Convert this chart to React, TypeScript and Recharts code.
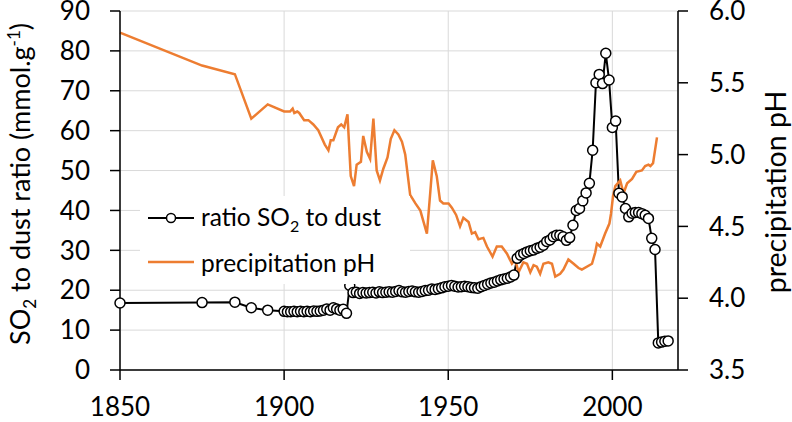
import { LineChart, Line, XAxis, YAxis, CartesianGrid, Legend } from "recharts";

// SO2 to dust ratio (mmol/g)
const ratioYears = [
  1850, 1875, 1885, 1890, 1895,
  1900, 1901, 1902, 1903, 1904, 1905, 1906, 1907, 1908, 1909,
  1910, 1911, 1912, 1913, 1914, 1915, 1916, 1917, 1918, 1919,
  1920, 1921, 1922, 1923, 1924, 1925, 1926, 1927, 1928, 1929,
  1930, 1931, 1932, 1933, 1934, 1935, 1936, 1937, 1938, 1939,
  1940, 1941, 1942, 1943, 1944, 1945, 1946, 1947, 1948, 1949,
  1950, 1951, 1952, 1953, 1954, 1955, 1956, 1957, 1958, 1959,
  1960, 1961, 1962, 1963, 1964, 1965, 1966, 1967, 1968, 1969,
  1970, 1971, 1972, 1973, 1974, 1975, 1976, 1977, 1978, 1979,
  1980, 1981, 1982, 1983, 1984, 1985, 1986, 1987, 1988, 1989,
  1990, 1991, 1992, 1993, 1994, 1995, 1996, 1997, 1998, 1999,
  2000, 2001, 2002, 2003, 2004, 2005, 2006, 2007, 2008, 2009,
  2010, 2011, 2012, 2013, 2014, 2015, 2016, 2017,
];
const ratioValues = [
  16.8, 16.9, 17.0, 15.6, 15.0,
  14.7, 14.6, 14.6, 14.7, 14.6, 14.7, 14.6, 14.7, 14.6, 14.8,
  14.7, 14.8, 15.0, 15.3, 15.0, 15.6, 15.3, 15.0, 15.2, 14.2,
  21.2, 19.4, 19.5, 19.2, 19.4, 19.3, 19.4, 19.5, 19.3, 19.6,
  19.4, 19.5, 19.6, 19.5, 19.7, 19.9, 19.6, 19.5, 19.7, 19.8,
  19.6, 19.5, 19.7, 19.9, 20.0, 20.3, 20.2, 20.4, 20.6, 20.9,
  21.0, 21.2, 21.0, 20.8, 20.9, 21.0, 20.9, 20.7, 20.6, 20.5,
  20.9, 21.2, 21.5, 21.8, 22.0, 22.3, 22.6, 22.8, 23.0, 23.3,
  23.8, 28.0, 28.8, 29.2, 29.6, 29.9, 30.1, 30.5, 30.8, 31.3,
  32.2, 32.6, 33.4, 33.8, 33.8, 33.4, 32.5, 33.2, 36.3, 40.0,
  40.5, 42.4, 44.4, 46.8, 55.1, 72.0, 74.1, 71.8, 79.4, 72.7,
  60.8, 62.4, 44.3, 43.4, 40.5, 38.4, 39.3, 39.5, 39.5, 39.2,
  38.8, 38.0, 33.0, 30.2, 6.8, 7.0, 7.2, 7.3,
];

// precipitation pH
const phYears = [
  1850, 1875, 1885, 1890, 1895, 1900, 1901.8, 1902.6, 1903.1, 1904, 1904.6,
  1906.1, 1907.4, 1908.9, 1910.4, 1912.4, 1913.5, 1914.2, 1915, 1916.4, 1917.4,
  1918.3, 1919.3, 1920.3, 1921.3, 1922.1, 1923.4, 1924.1, 1925.2, 1926.2, 1927.2,
  1928.2, 1929.2, 1930.2, 1931.5, 1932.5, 1933.6, 1934.8, 1935.9, 1936.9, 1938.4,
  1940, 1941.5, 1943.5, 1944.5, 1945.3, 1946.5, 1947.5, 1948.5, 1950.1, 1951.1,
  1952.4, 1953.6, 1954.6, 1956.2, 1957.2, 1958.2, 1959.2, 1960.7, 1961.8, 1963.5,
  1964.8, 1966.3, 1967.9, 1969.4, 1970.4, 1971.4, 1972.9, 1974, 1975, 1976,
  1977, 1978, 1979, 1980.5, 1981.6, 1982.6, 1984.1, 1985.1, 1986.6, 1988.2,
  1989.7, 1990.7, 1993.8, 1994.8, 1995.3, 1996.3, 1997.8, 1999.1, 1999.6, 2000.2,
  2000.9, 2002.4, 2003.4, 2004.5, 2006, 2007.3, 2009, 2010, 2011, 2011.6,
  2012.4, 2013.6,
];
const phValues = [
  5.85, 5.62, 5.56, 5.25, 5.35, 5.3, 5.3, 5.32, 5.29, 5.3, 5.29,
  5.24, 5.24, 5.21, 5.17, 5.07, 5.03, 5.1, 5.1, 5.19, 5.21,
  5.19, 5.28, 4.85, 4.78, 4.93, 4.95, 5.13, 5.02, 4.97, 5.25,
  4.89, 4.82, 4.9, 4.98, 5.11, 5.17, 5.14, 5.09, 5.0, 4.72,
  4.66, 4.61, 4.45, 4.73, 4.96, 4.85, 4.68, 4.66, 4.66, 4.63,
  4.58, 4.5, 4.56, 4.53, 4.45, 4.46, 4.41, 4.42, 4.36, 4.29,
  4.36, 4.36, 4.31, 4.24, 4.27, 4.18, 4.25, 4.24, 4.18, 4.23,
  4.22, 4.17, 4.24, 4.25, 4.24, 4.15, 4.17, 4.2, 4.27, 4.24,
  4.21, 4.2, 4.24, 4.32, 4.38, 4.36, 4.45, 4.52, 4.59, 4.71,
  4.78, 4.82, 4.73, 4.8, 4.83, 4.88, 4.89, 4.92, 4.93, 4.92,
  4.94, 5.12,
];

const xTicks = [1850, 1900, 1950, 2000];
const leftTicks = [0, 10, 20, 30, 40, 50, 60, 70, 80, 90];
const rightTicks = [3.5, 4.0, 4.5, 5.0, 5.5, 6.0];

const ratioData = ratioYears.map((year, i) => ({ year, ratio: ratioValues[i] }));
const phData = phYears.map((year, i) => ({ year, ph: phValues[i] }));

const ORANGE = "#ED7D31";
const tickStyle = { fontSize: 26, fill: "#000" };

function LeftTitle() {
  return (
    <text x={30} y={184} transform="rotate(-90 30 184)" textAnchor="middle" fontSize={27} fill="#000">
      SO
      <tspan dy={6} fontSize={17}>2</tspan>
      <tspan dy={-6}> to dust ratio (mmol.g</tspan>
      <tspan dy={-10} fontSize={17}>-1</tspan>
      <tspan dy={10}>)</tspan>
    </text>
  );
}

function RightTitle() {
  return (
    <text x={786} y={192} transform="rotate(-90 786 192)" textAnchor="middle" fontSize={28.5} fill="#000">
      precipitation pH
    </text>
  );
}

function LegendBox() {
  const row = { display: "flex", alignItems: "center", height: 44, fontSize: 24.5, color: "#000" };
  return (
    <div style={{ background: "#fff", width: 270, height: 88, paddingLeft: 8, boxSizing: "border-box" }}>
      <div style={row}>
        <svg width={46} height={20} style={{ marginRight: 7 }}>
          <line x1={0} y1={10} x2={46} y2={10} stroke="#000" strokeWidth={2} />
          <circle cx={23} cy={10} r={4.5} fill="#fff" stroke="#000" strokeWidth={1.5} />
        </svg>
        <span>
          ratio SO<sub style={{ fontSize: 16 }}>2</sub> to dust
        </span>
      </div>
      <div style={row}>
        <svg width={46} height={20} style={{ marginRight: 7 }}>
          <line x1={0} y1={10} x2={46} y2={10} stroke={ORANGE} strokeWidth={2.5} />
        </svg>
        <span>precipitation pH</span>
      </div>
    </div>
  );
}

export default function App() {
  return (
    <div
      style={{
        position: "absolute",
        left: 0,
        top: 0,
        width: 792,
        height: 422,
        background: "#fff",
        fontFamily: "Lato, sans-serif",
      }}
    >
      <LineChart width={792} height={422} margin={{ top: 11, right: 0, bottom: 0, left: 0 }}>
        <CartesianGrid stroke="#d9d9d9" yAxisId="left" />
        <XAxis
          dataKey="year"
          type="number"
          domain={[1850, 2020]}
          ticks={xTicks}
          interval={0}
          height={52}
          tickSize={10}
          tickMargin={18}
          axisLine={{ stroke: "#000", strokeWidth: 1.5 }}
          tickLine={{ stroke: "#000", strokeWidth: 1.5 }}
          tick={tickStyle}
        />
        <YAxis
          yAxisId="left"
          domain={[0, 90]}
          ticks={leftTicks}
          interval={0}
          width={120}
          tickSize={10}
          tickMargin={20}
          axisLine={{ stroke: "#000", strokeWidth: 1.5 }}
          tickLine={{ stroke: "#000", strokeWidth: 1.5 }}
          tick={tickStyle}
          label={<LeftTitle />}
        />
        <YAxis
          yAxisId="right"
          orientation="right"
          domain={[3.5, 6]}
          ticks={rightTicks}
          interval={0}
          width={114}
          tickSize={10}
          tickMargin={21}
          axisLine={{ stroke: "#000", strokeWidth: 1.5 }}
          tickLine={{ stroke: "#000", strokeWidth: 1.5 }}
          tick={tickStyle}
          tickFormatter={(v: number) => v.toFixed(1)}
          label={<RightTitle />}
        />
        <Legend
          layout="vertical"
          align="center"
          verticalAlign="middle"
          wrapperStyle={{ left: 140, top: 196, width: 270, height: 88 }}
          content={() => <LegendBox />}
        />
        <Line
          yAxisId="left"
          data={ratioData}
          dataKey="ratio"
          type="linear"
          stroke="#000"
          strokeWidth={2}
          dot={{ r: 5, fill: "#fff", stroke: "#000", strokeWidth: 1.5 }}
          isAnimationActive={false}
        />
        <Line
          yAxisId="right"
          data={phData}
          dataKey="ph"
          type="linear"
          stroke={ORANGE}
          strokeWidth={2.5}
          dot={false}
          isAnimationActive={false}
        />
      </LineChart>
    </div>
  );
}
